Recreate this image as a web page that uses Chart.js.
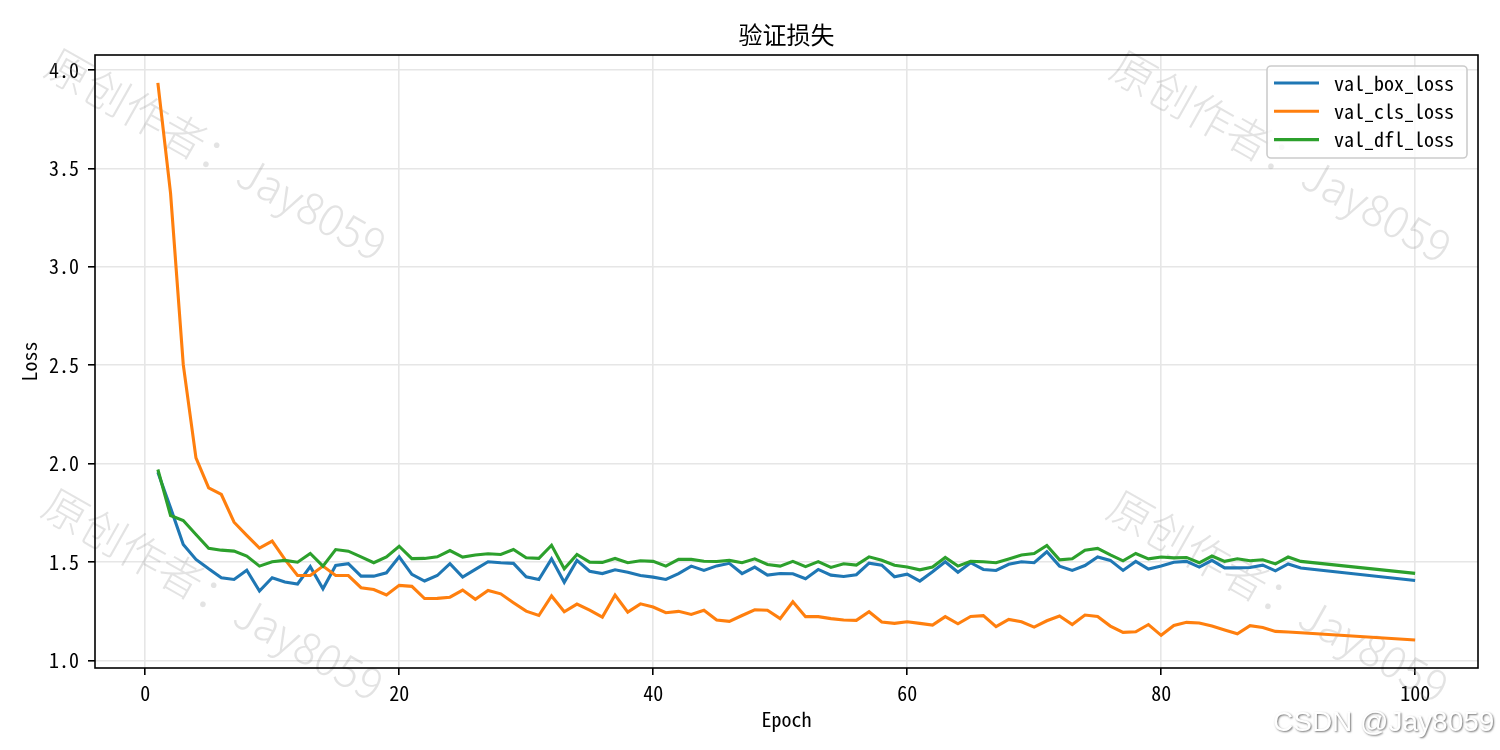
<!DOCTYPE html>
<html>
<head>
<meta charset="utf-8">
<title>验证损失</title>
<script src="https://cdn.jsdelivr.net/npm/chart.js@4.4.1/dist/chart.umd.min.js"></script>
<style>
    html, body { margin: 0; padding: 0; background: #fff; }
    #lossChart { display: block; }
</style>
</head>
<body>
<canvas id="lossChart" width="1500" height="750"></canvas>
<script>
; (() => {
    "use strict";

    // epochs 92-99 are not in the log, the curves run straight from 91 to 100
    const epochs = [
        1, 2, 3, 4, 5, 6, 7, 8, 9, 10, 11, 12, 13, 14, 15, 16, 17, 18, 19, 20,
        21, 22, 23, 24, 25, 26, 27, 28, 29, 30, 31, 32, 33, 34, 35, 36, 37, 38, 39, 40,
        41, 42, 43, 44, 45, 46, 47, 48, 49, 50, 51, 52, 53, 54, 55, 56, 57, 58, 59, 60,
        61, 62, 63, 64, 65, 66, 67, 68, 69, 70, 71, 72, 73, 74, 75, 76, 77, 78, 79, 80,
        81, 82, 83, 84, 85, 86, 87, 88, 89, 90, 91, 100
    ];

    const valBoxLoss = [
        1.956, 1.775, 1.589, 1.513, 1.465, 1.420, 1.411, 1.458, 1.352, 1.420,
        1.398, 1.388, 1.476, 1.364, 1.482, 1.491, 1.428, 1.428, 1.445, 1.526,
        1.437, 1.403, 1.431, 1.491, 1.423, 1.462, 1.501, 1.496, 1.493, 1.425,
        1.411, 1.516, 1.397, 1.508, 1.453, 1.441, 1.460, 1.448, 1.431, 1.423,
        1.411, 1.441, 1.479, 1.457, 1.480, 1.493, 1.441, 1.474, 1.433, 1.441,
        1.440, 1.415, 1.462, 1.433, 1.426, 1.435, 1.494, 1.484, 1.425, 1.438,
        1.403, 1.450, 1.501, 1.448, 1.496, 1.462, 1.457, 1.488, 1.501, 1.496,
        1.552, 1.479, 1.457, 1.482, 1.525, 1.508, 1.457, 1.503, 1.464, 1.479,
        1.499, 1.503, 1.474, 1.508, 1.470, 1.470, 1.472, 1.484, 1.455, 1.490,
        1.469, 1.406
    ];

    const valClsLoss = [
        3.935, 3.374, 2.503, 2.029, 1.877, 1.843, 1.702, 1.635, 1.570, 1.606,
        1.513, 1.431, 1.431, 1.479, 1.431, 1.431, 1.369, 1.360, 1.332, 1.381,
        1.376, 1.314, 1.315, 1.321, 1.357, 1.310, 1.355, 1.338, 1.293, 1.250,
        1.228, 1.327, 1.247, 1.286, 1.255, 1.220, 1.332, 1.245, 1.287, 1.271,
        1.242, 1.249, 1.233, 1.255, 1.205, 1.198, 1.228, 1.257, 1.255, 1.212,
        1.298, 1.222, 1.222, 1.212, 1.205, 1.203, 1.247, 1.195, 1.188, 1.196,
        1.188, 1.179, 1.222, 1.186, 1.223, 1.227, 1.171, 1.208, 1.196, 1.169,
        1.201, 1.225, 1.182, 1.230, 1.223, 1.174, 1.142, 1.145, 1.182, 1.127,
        1.177, 1.193, 1.190, 1.174, 1.154, 1.135, 1.176, 1.167, 1.147, 1.144,
        1.140, 1.103
    ];

    const valDflLoss = [
        1.970, 1.736, 1.711, 1.640, 1.569, 1.560, 1.555, 1.530, 1.479, 1.501,
        1.508, 1.499, 1.543, 1.479, 1.563, 1.555, 1.526, 1.496, 1.526, 1.580,
        1.517, 1.518, 1.526, 1.558, 1.525, 1.535, 1.542, 1.538, 1.563, 1.521,
        1.518, 1.585, 1.465, 1.538, 1.499, 1.498, 1.518, 1.496, 1.506, 1.503,
        1.479, 1.513, 1.513, 1.504, 1.502, 1.508, 1.496, 1.516, 1.487, 1.479,
        1.503, 1.476, 1.502, 1.472, 1.491, 1.484, 1.526, 1.509, 1.483, 1.474,
        1.460, 1.474, 1.523, 1.479, 1.503, 1.501, 1.496, 1.515, 1.535, 1.543,
        1.584, 1.511, 1.516, 1.560, 1.569, 1.536, 1.506, 1.543, 1.516, 1.525,
        1.521, 1.523, 1.496, 1.530, 1.503, 1.516, 1.506, 1.511, 1.490, 1.525,
        1.503, 1.442
    ];

    const seriesNames = ['val_box_loss', 'val_cls_loss', 'val_dfl_loss'];
    const seriesColors = ['#1f77b4', '#ff7f0e', '#2ca02c'];
    const xTicks = [0, 20, 40, 60, 80, 100];
    const yTicks = [1.0, 1.5, 2.0, 2.5, 3.0, 3.5, 4.0];

    const chartTitle = '验证损失';
    const xTitle = 'Epoch';
    const yTitle = 'Loss';
    const watermark = '原创作者：Jay8059';
    const siteMark = 'CSDN @Jay8059';

    const monoFont = '"Noto Sans Mono CJK SC", "DejaVu Sans Mono", monospace';
    const cjkFont = '"Noto Sans CJK SC", "Noto Sans", sans-serif';

    const toPoints = (vals) => epochs.map((e, i) => ({ x: e, y: vals[i] }));

    const dtset = [valBoxLoss, valClsLoss, valDflLoss].map((vals, i) => ({
        label: seriesNames[i],
        data: toPoints(vals),
        borderColor: seriesColors[i],
        backgroundColor: seriesColors[i],
        borderWidth: 3.1,
        pointRadius: 0,
        pointHoverRadius: 0,
        tension: 0,
        fill: false,
        order: 3 - i
    }));

    // faint author marks, behind the curves
    const watermarkPlugin = {
        id: 'watermark',
        beforeDatasetsDraw(chart) {
            const c = chart.ctx;
            const spots = [[50, 60], [1115, 62], [47, 500], [1112, 502]];
            c.save();
            c.font = '300 44px ' + cjkFont;
            c.fillStyle = 'rgba(150, 150, 150, 0.27)';
            c.textAlign = 'left';
            c.textBaseline = 'middle';
            spots.forEach(([x, y]) => {
                c.save();
                c.translate(x, y);
                c.rotate(29.5 * Math.PI / 180);
                c.fillText(watermark, 0, 0);
                c.restore();
            });
            c.restore();
        },
        afterDraw(chart) {
            const c = chart.ctx;
            c.save();
            c.font = '28px "Liberation Sans", Arial, sans-serif';
            c.textAlign = 'left';
            c.textBaseline = 'middle';
            c.shadowColor = 'rgba(0, 0, 0, 0.55)';
            c.shadowBlur = 2;
            c.shadowOffsetX = 1;
            c.shadowOffsetY = 1;
            c.fillStyle = '#ffffff';
            c.fillText(siteMark, 1273, 723);
            c.restore();
        }
    };

    // closed axes frame, like the spines
    const framePlugin = {
        id: 'frame',
        afterDatasetsDraw(chart) {
            const { left, top, right, bottom } = chart.chartArea;
            const c = chart.ctx;
            c.save();
            c.strokeStyle = '#000';
            c.lineWidth = 1.6;
            c.strokeRect(left, top, right - left, bottom - top);
            c.restore();
        }
    };

    // legend box in the upper right corner of the plot
    const legendPlugin = {
        id: 'boxLegend',
        afterDraw(chart) {
            const c = chart.ctx;
            const bx = 1267, by = 66, bw = 200, bh = 92;
            c.save();
            c.beginPath();
            c.roundRect(bx, by, bw, bh, 4);
            c.fillStyle = 'rgba(255, 255, 255, 0.8)';
            c.fill();
            c.strokeStyle = '#cccccc';
            c.lineWidth = 1.6;
            c.stroke();
            c.font = '20px ' + monoFont;
            c.textAlign = 'left';
            c.textBaseline = 'middle';
            chart.data.datasets.forEach((ds, i) => {
                const y = 83 + i * 28.3;
                c.beginPath();
                c.moveTo(1274, y);
                c.lineTo(1319, y);
                c.strokeStyle = ds.borderColor;
                c.lineWidth = 3.1;
                c.stroke();
                c.fillStyle = '#000';
                c.fillText(ds.label, 1334, y);
            });
            c.restore();
        }
    };

    Chart.defaults.font.family = monoFont;
    Chart.defaults.font.size = 20;
    Chart.defaults.color = '#000';

    const gridColor = '#e6e6e6';

    new Chart(document.getElementById('lossChart'), {
        type: 'line',
        data: { datasets: dtset },
        plugins: [watermarkPlugin, framePlugin, legendPlugin],
        options: {
            responsive: false,
            maintainAspectRatio: false,
            devicePixelRatio: 1,
            animation: false,
            layout: {
                padding: { left: 0, right: 22, top: 0, bottom: 0 }
            },
            plugins: {
                legend: { display: false },
                tooltip: { enabled: false },
                title: {
                    display: true,
                    fullSize: false,
                    text: chartTitle,
                    color: '#000',
                    font: { family: cjkFont, size: 24, weight: 'normal', lineHeight: 1.25 },
                    padding: { top: 20, bottom: 5 }
                }
            },
            scales: {
                x: {
                    type: 'linear',
                    min: -3.95,
                    max: 104.95,
                    afterFit: (s) => { s.height = 82; },
                    afterBuildTicks: (s) => { s.ticks = xTicks.map(v => ({ value: v })); },
                    ticks: {
                        includeBounds: false,
                        autoSkip: false,
                        maxRotation: 0,
                        padding: 6,
                        callback: (v) => String(v)
                    },
                    grid: {
                        color: gridColor,
                        lineWidth: 1.6,
                        drawTicks: true,
                        tickLength: 7,
                        tickColor: '#000',
                        tickWidth: 1.6
                    },
                    border: { display: false },
                    title: {
                        display: true,
                        text: xTitle,
                        font: { size: 20, lineHeight: 1.2 },
                        padding: { top: 0, bottom: 19 }
                    }
                },
                y: {
                    type: 'linear',
                    min: 0.961,
                    max: 4.077,
                    afterFit: (s) => { s.width = 95; },
                    afterBuildTicks: (s) => { s.ticks = yTicks.map(v => ({ value: v })); },
                    ticks: {
                        includeBounds: false,
                        autoSkip: false,
                        padding: 9,
                        callback: (v) => v.toFixed(1)
                    },
                    grid: {
                        color: gridColor,
                        lineWidth: 1.6,
                        drawTicks: true,
                        tickLength: 7,
                        tickColor: '#000',
                        tickWidth: 1.6
                    },
                    border: { display: false },
                    title: {
                        display: true,
                        text: yTitle,
                        font: { size: 20, lineHeight: 1.2 },
                        padding: { top: 17, bottom: 0 }
                    }
                }
            }
        }
    });

})();
</script>
</body>
</html>
